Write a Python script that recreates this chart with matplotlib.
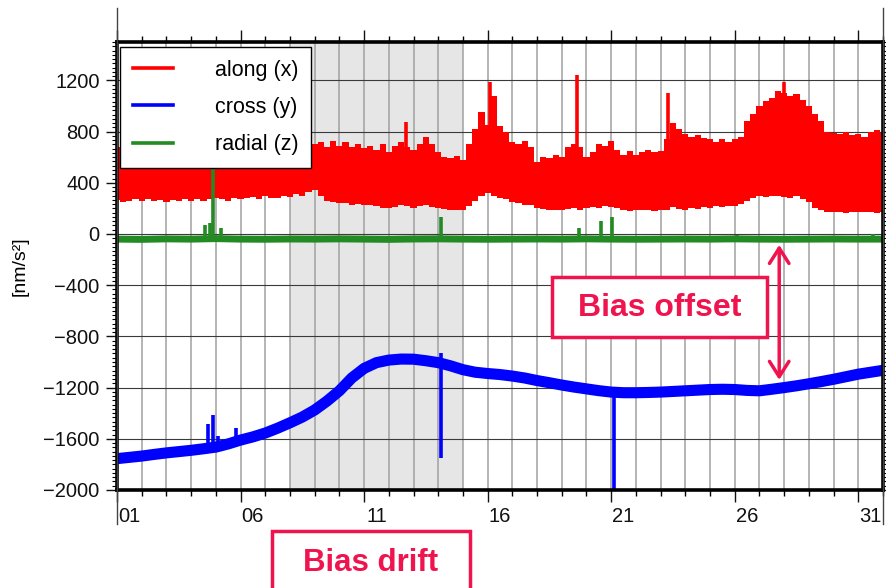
import numpy as np
import matplotlib
matplotlib.use("Agg")
import matplotlib.pyplot as plt
from matplotlib.ticker import MultipleLocator, AutoMinorLocator
from matplotlib.patches import Rectangle
from matplotlib.lines import Line2D
import matplotlib.transforms as mtransforms

plt.rcParams['font.family'] = ['Liberation Sans', 'DejaVu Sans']

# --- accelerometer residuals over one month (nm/s^2) ---
# along-track (x): upper / lower envelope of the noisy band, quarter-day steps
days_q = np.arange(1.0, 32.001, 0.25)
along_hi = [680, 650, 690, 660, 700, 650, 680, 660, 700, 670,
            690, 650, 700, 660, 680, 700, 650, 690, 670, 700,
            680, 660, 700, 690, 720, 680, 710, 690, 720, 700,
            690, 730, 700, 720, 680, 730, 690, 720, 680, 700,
            670, 690, 660, 700, 640, 690, 720, 680, 660, 700,
            760, 700, 640, 600, 590, 610, 580, 700, 820, 950,
            850, 1080, 840, 800, 720, 700, 730, 680, 560, 600,
            590, 620, 600, 680, 700, 680, 600, 640, 700, 690,
            730, 660, 620, 650, 620, 640, 660, 640, 650, 740,
            870, 820, 780, 760, 770, 750, 740, 720, 740, 720,
            740, 760, 880, 940, 1000, 1040, 1060, 1120, 1100, 1080,
            1090, 1050, 1000, 940, 880, 800, 790, 780, 800, 770,
            780, 760, 800, 810, 790]
along_lo = [265, 250, 255, 270, 260, 275, 255, 262, 250, 268,
            258, 272, 260, 270, 255, 275, 285, 270, 260, 280,
            275, 285, 290, 275, 295, 285, 280, 300, 290, 310,
            295, 330, 340, 300, 260, 250, 245, 240, 230, 235,
            225, 230, 215, 205, 200, 210, 225, 215, 205, 215,
            225, 210, 200, 195, 185, 190, 190, 220, 260, 300,
            320, 300, 280, 270, 250, 240, 230, 225, 205, 195,
            185, 190, 185, 195, 200, 190, 200, 210, 205, 215,
            210, 200, 185, 180, 185, 190, 185, 180, 185, 190,
            210, 195, 190, 200, 195, 210, 205, 215, 210, 215,
            220, 235, 260, 280, 295, 290, 300, 295, 290, 285,
            300, 270, 250, 200, 185, 175, 170, 175, 165, 170,
            175, 170, 175, 165, 170]
along_spike_day = [12.7, 16.1, 19.6, 23.3, 28.0]
along_spike_top = [875, 1190, 1243, 1100, 1190]

# cross-track (y): half-day mean of the drifting bias
days_h = np.arange(1.0, 32.001, 0.5)
cross = [-1755, -1745, -1735, -1722, -1710, -1700, -1690, -1678, -1665, -1640,
         -1610, -1585, -1555, -1517, -1475, -1430, -1375, -1305, -1225, -1125,
         -1050, -1005, -985, -977, -978, -990, -1005, -1030, -1060, -1080,
         -1090, -1098, -1110, -1125, -1145, -1162, -1180, -1196, -1210, -1224,
         -1235, -1240, -1240, -1238, -1235, -1230, -1225, -1220, -1215, -1213,
         -1215, -1222, -1225, -1213, -1200, -1186, -1170, -1153, -1135, -1115,
         -1095, -1080, -1065]
cross_spike_day = [4.7, 4.9, 5.1, 5.8, 14.1, 21.1]
cross_spike_lo = [-1670, -1665, -1665, -1640, -1750, -2000]
cross_spike_hi = [-1484, -1416, -1580, -1515, -927, -1220]

# radial (z): daily mean
days = np.arange(1, 33)
radial = [-40, -42, -38, -40, -36, -40, -41, -39, -40, -38,
          -40, -42, -39, -38, -40, -41, -40, -39, -40, -38,
          -40, -41, -40, -39, -40, -38, -40, -41, -40, -39,
          -40, -40]
radial_spike_day = [4.55, 4.75, 4.9, 5.2, 14.1, 19.7, 20.6, 21.05, 26.1, 31.6]
radial_spike_top = [70, 85, 520, 50, 130, 45, 105, 130, -5, 0]

major_days = [1, 6, 11, 16, 21, 26, 31]
day_labels = ['01', '06', '11', '16', '21', '26', '31']

red = '#ff0000'
blue = '#0000ff'
green = '#238b23'
accent = '#f0144e'

fig = plt.figure(figsize=(8.86, 5.88), dpi=100)
ax = fig.add_axes([117/886, 98/588, 766/886, 448/588])

ax.axvspan(8, 15, color='#e6e6e6', zorder=0, lw=0)

# grid: one vertical line per day, horizontal every 400
for d in days[1:-1]:
    ax.axvline(d, color='#a0a0a0', lw=1.1, zorder=0.5)
for v in np.arange(-1600, 1201, 400):
    ax.axhline(v, color='#3a3a3a', lw=0.8, zorder=0.6)

ax.fill_between(days_q, along_lo, along_hi, step='mid', color=red, lw=0, zorder=2)
ax.vlines(along_spike_day, 400, along_spike_top, color=red, lw=2.6, zorder=2)

ax.plot(days_h, cross, color=blue, lw=8, solid_joinstyle='round',
        solid_capstyle='butt', zorder=3)
ax.vlines(cross_spike_day, cross_spike_lo, cross_spike_hi, color=blue, lw=2.6, zorder=3)

ax.plot(days, radial, color=green, lw=5, solid_capstyle='butt', zorder=3)
ax.vlines(radial_spike_day, -40, radial_spike_top, color=green, lw=2.6, zorder=3)

ax.set_xlim(1, 32)
ax.set_ylim(-2000, 1500)

ax.yaxis.set_major_locator(MultipleLocator(400))
ax.yaxis.set_minor_locator(AutoMinorLocator(12))
ax.set_xticks(major_days)
ax.set_xticklabels(day_labels)
ax.set_xticks(days, minor=True)

ax.tick_params(axis='both', which='major', direction='out', labelsize=14.5,
               colors='#111111', width=1.0)
ax.tick_params(axis='x', which='major', length=8.5, pad=3.5, top=True)
ax.tick_params(axis='x', which='minor', length=4.3, width=1.0, top=True)
ax.tick_params(axis='y', which='major', length=8, pad=4.5, right=True)
ax.tick_params(axis='y', which='minor', length=3.6, width=0.8, right=True)

# day labels sit in the middle of each day
shift = mtransforms.ScaledTranslation(12.3/100, 0, fig.dpi_scale_trans)
for lab in ax.get_xticklabels():
    lab.set_transform(lab.get_transform() + shift)

for sp in ax.spines.values():
    sp.set_linewidth(2.6)
    sp.set_zorder(6)

# month boundaries drawn past the frame
for xb in (1, 32):
    ax.add_line(Line2D([xb, xb], [-0.075, 1.077], transform=ax.get_xaxis_transform(),
                       color='#444444', lw=1.0, clip_on=False, zorder=7))

ax.set_ylabel('[nm/s²]', fontsize=14)
ax.yaxis.set_label_coords(-0.116, 0.5)

handles = [Line2D([], [], color=red, lw=2.6),
           Line2D([], [], color=blue, lw=2.6),
           Line2D([], [], color=green, lw=2.6)]
leg = ax.legend(handles, ['along (x)', 'cross (y)', 'radial (z)'],
                loc='upper left', bbox_to_anchor=(0.004, 0.989), borderaxespad=0,
                fontsize=15.5, frameon=True, fancybox=False, framealpha=1,
                edgecolor='black', handlelength=1.85, handletextpad=1.95,
                borderpad=0.6, labelspacing=0.75)
leg.get_frame().set_linewidth(1.0)
leg.set_zorder(8)

# annotations
ax.annotate('', xy=(27.8, -1140), xytext=(27.8, -85),
            arrowprops=dict(arrowstyle='<->,head_length=0.55,head_width=0.35',
                            color=accent, lw=2.5, shrinkA=0, shrinkB=0,
                            mutation_scale=20), zorder=9)

fig.patches.append(Rectangle((552/886, 251/588), 215/886, 60/588,
                             transform=fig.transFigure, fill=True, facecolor='white',
                             edgecolor=accent, lw=2.5, zorder=9))
fig.text(659.5/886, 280/588, 'Bias offset', color=accent, fontsize=23,
         fontweight='bold', ha='center', va='center', zorder=10)

fig.patches.append(Rectangle((272/886, -0.05), 198/886, 0.05 + 57/588,
                             transform=fig.transFigure, fill=True, facecolor='white',
                             edgecolor=accent, lw=2.5, zorder=9, clip_on=False))
fig.text(371/886, 25/588, 'Bias drift', color=accent, fontsize=22.5,
         fontweight='bold', ha='center', va='center', zorder=10)

fig.savefig('out.png', dpi=100)
